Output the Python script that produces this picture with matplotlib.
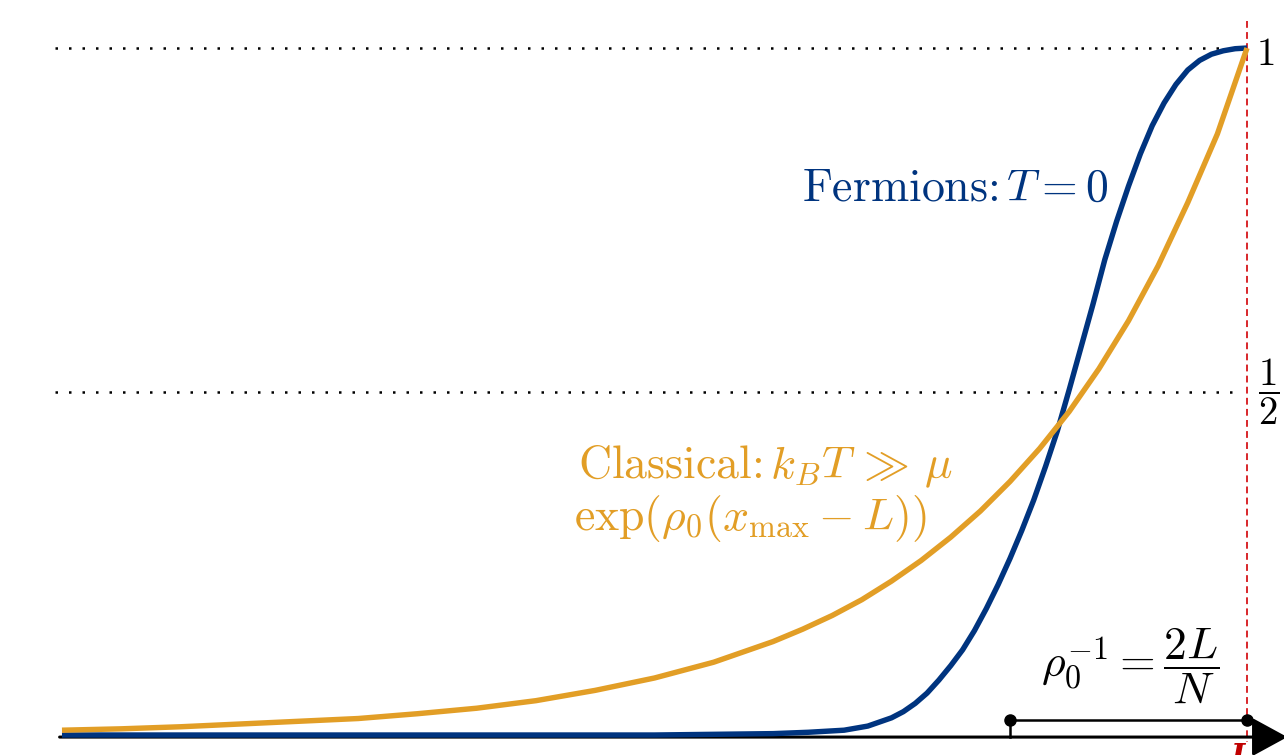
import numpy as np
import matplotlib.pyplot as plt

plt.rcParams['font.family'] = 'serif'
plt.rcParams['font.serif'] = ['cmr10']
plt.rcParams['mathtext.fontset'] = 'cm'
plt.rcParams['axes.formatter.use_mathtext'] = True

BLUE = '#00347f'
ORANGE = '#e29e26'
RED = '#d8262a'

# box length and mean spacing (units where L = 10)
L = 10.0
spacing = 2.0

# Fermions at T = 0: occupation of the largest position
x_fermi = [0.0, 5.0, 5.5, 6.0, 6.3, 6.6, 6.8, 7.0, 7.1, 7.2, 7.3, 7.4, 7.5, 7.6,
           7.7, 7.8, 7.9, 8.0, 8.1, 8.2, 8.3, 8.4, 8.5, 8.6, 8.7, 8.8, 8.9, 9.0,
           9.1, 9.2, 9.3, 9.4, 9.5, 9.6, 9.7, 9.8, 9.9, 10.0]
y_fermi = [0.0, 0.0, 0.001, 0.002, 0.004, 0.007, 0.013, 0.025, 0.034, 0.046,
           0.061, 0.080, 0.101, 0.124, 0.152, 0.184, 0.219, 0.257, 0.298, 0.342,
           0.391, 0.443, 0.503, 0.565, 0.627, 0.692, 0.748, 0.799, 0.846, 0.887,
           0.920, 0.947, 0.968, 0.982, 0.991, 0.996, 0.999, 1.0]

# Classical limit: exp(rho_0 (x_max - L))
x_class = [0.0, 0.5, 1.0, 1.5, 2.0, 2.5, 3.0, 3.5, 4.0, 4.5, 5.0, 5.5, 6.0, 6.25,
           6.5, 6.75, 7.0, 7.25, 7.5, 7.75, 8.0, 8.25, 8.5, 8.75, 9.0, 9.25, 9.5,
           9.75, 10.0]
y_class = [0.007, 0.009, 0.012, 0.016, 0.020, 0.024, 0.031, 0.039, 0.050, 0.065,
           0.083, 0.106, 0.136, 0.154, 0.174, 0.197, 0.224, 0.254, 0.288, 0.326,
           0.369, 0.417, 0.471, 0.533, 0.603, 0.683, 0.775, 0.875, 1.0]

levels = [1.0, 0.5]
level_labels = [r'$1$', r'$\dfrac{1}{2}$']

fig = plt.figure(figsize=(12.84, 7.55), dpi=100)
ax = fig.add_axes([0, 0, 1, 1])
ax.set_xlim(-0.523, 10.312)
ax.set_ylim(-0.0291, 1.0699)
ax.axis('off')

# reference levels
for lev, lab in zip(levels, level_labels):
    ax.plot([-0.06, L - 0.06], [lev, lev], color='black', lw=1.8,
            linestyle=(0, (1, 4.4)), zorder=1)
ax.text(L + 0.15, levels[0] - 0.01, level_labels[0], fontsize=28,
        ha='center', va='center')
ax.text(L + 0.18, levels[1], level_labels[1], fontsize=28,
        ha='center', va='center')

# wall at x = L
ax.plot([L, L], [1.04, -0.01], color=RED, lw=1.4, linestyle=(0, (3.5, 2.2)),
        zorder=2)

# position axis
ax.annotate('', xy=(10.34, -0.003), xytext=(-0.02, -0.003),
            arrowprops=dict(arrowstyle='-|>,head_length=0.44,head_width=0.24',
                            lw=2.2, color='black', shrinkA=0, shrinkB=0,
                            mutation_scale=50),
            annotation_clip=False, zorder=3)

ax.plot(x_fermi, y_fermi, color=BLUE, lw=3.9, solid_capstyle='butt',
        solid_joinstyle='round', zorder=4)
ax.plot(x_class, y_class, color=ORANGE, lw=3.9, solid_capstyle='butt',
        solid_joinstyle='round', zorder=5)

# mean spacing bracket
yb = 0.022
ax.plot([L - spacing, L - spacing], [-0.003, yb], color='black', lw=1.8, zorder=6)
ax.plot([L - spacing, L], [yb, yb], color='black', lw=1.8, zorder=6)
ax.plot([L - spacing, L], [yb, yb], 'o', color='black', ms=8, zorder=7)
ax.text(9.01, 0.102, r'$\rho_0^{-1}=\dfrac{2L}{N}$', fontsize=33,
        ha='center', va='center')

# labels
ax.text(8.83, 0.778, r'Fermions:$\,T=0$', fontsize=33, color=BLUE,
        ha='right', va='baseline')
ax.text(5.93, 0.374, r'Classical:$\,k_BT\,\gg\,\mu$', fontsize=33, color=ORANGE,
        ha='center', va='baseline')
ax.text(5.81, 0.298, r'$\exp(\rho_0(x_{\max}-L))$', fontsize=33, color=ORANGE,
        ha='center', va='baseline')

ax.text(L - 0.05, -0.01, 'L', fontsize=22, color='#c00000', family='DejaVu Serif',
        style='italic', weight='bold', ha='center', va='top')

fig.savefig('out.png', dpi=100)
